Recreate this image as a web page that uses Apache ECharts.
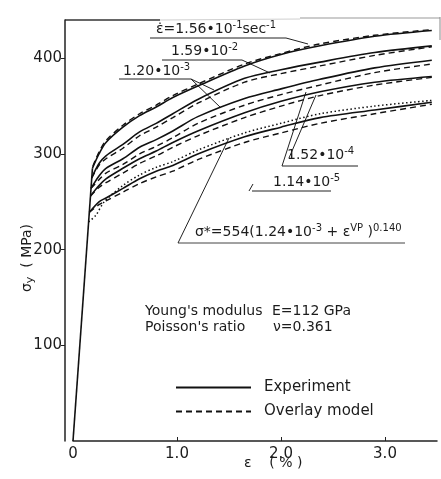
<!DOCTYPE html>
<html>
<head>
<meta charset="utf-8">
<script src="https://cdn.jsdelivr.net/npm/echarts@6/dist/echarts.min.js"></script>
<style>
    html, body { margin: 0; padding: 0; background: #fff; }
    #chart { width: 441px; height: 479px; }
</style>
</head>
<body>
<div id="chart"></div>
<script>
// strain (%) / yield stress (MPa)
const elastic = [[0, 0], [0.187, 285]];

// experiment, one per strain rate (top = fastest)
const exp1 = [[0.187, 285], [0.25, 300], [0.317, 312], [0.48, 328], [0.64, 340], [0.80, 349], [0.96, 359], [1.20, 371], [1.65, 392], [2.0, 404], [2.375, 413], [2.9, 423], [3.45, 429]];
const exp2 = [[0.18, 275], [0.25, 290], [0.317, 298], [0.48, 310], [0.64, 323], [0.80, 332], [0.96, 342], [1.20, 357], [1.65, 379], [2.0, 388], [2.375, 396], [2.9, 406], [3.45, 413]];
const exp3 = [[0.173, 264], [0.25, 277], [0.317, 285], [0.48, 295], [0.64, 307], [0.80, 315], [0.96, 324], [1.20, 339], [1.65, 358], [2.0, 368], [2.375, 378], [2.9, 390], [3.45, 398]];
const exp4 = [[0.168, 256], [0.25, 267], [0.317, 274], [0.48, 285], [0.64, 295], [0.80, 303], [0.96, 312], [1.20, 324], [1.65, 343], [2.0, 355], [2.375, 365], [2.9, 375], [3.45, 381]];
const exp5 = [[0.157, 239], [0.25, 250], [0.317, 254], [0.48, 264], [0.64, 274], [0.80, 282], [0.96, 288], [1.20, 300], [1.65, 318], [2.0, 328], [2.375, 338], [2.9, 346], [3.45, 354]];

// overlay model (dashed)
const mod1 = [[0.19, 287], [0.25, 302], [0.317, 314], [0.48, 330], [0.64, 342], [0.80, 351], [0.96, 361], [1.20, 373], [1.65, 394], [2.0, 405], [2.375, 415], [2.9, 424], [3.45, 430]];
const mod2 = [[0.18, 275], [0.25, 288], [0.317, 295], [0.48, 306], [0.64, 319], [0.80, 328], [0.96, 338], [1.20, 353], [1.65, 375], [2.0, 384], [2.375, 392], [2.9, 403], [3.45, 412]];
const mod3 = [[0.173, 264], [0.25, 273], [0.317, 280], [0.48, 289], [0.64, 300], [0.80, 308], [0.96, 317], [1.20, 332], [1.65, 351], [2.0, 362], [2.375, 372], [2.9, 385], [3.45, 394]];
const mod4 = [[0.168, 256], [0.25, 265], [0.317, 270], [0.48, 280], [0.64, 290], [0.80, 298], [0.96, 307], [1.20, 319], [1.65, 338], [2.0, 350], [2.375, 361], [2.9, 372], [3.45, 380]];
const mod5 = [[0.157, 239], [0.25, 247], [0.317, 251], [0.48, 260], [0.64, 269], [0.80, 276], [0.96, 282], [1.20, 294], [1.65, 312], [2.0, 322], [2.375, 332], [2.9, 342], [3.45, 352]];

// sigma* reference curve (dotted)
const sigmaStar = [[0.15, 229], [0.22, 236], [0.30, 250], [0.48, 267], [0.64, 278], [0.80, 286], [0.96, 292], [1.20, 304], [1.65, 322], [2.0, 332], [2.375, 342], [2.9, 350], [3.45, 356]];

const xTicks = [0, 1, 2, 3];
const yTicks = [100, 200, 300, 400];

const FONT = '"DejaVu Sans", sans-serif';
const INK = '#1c1c1c';

const rich = {
    n: { fontSize: 14, fontFamily: FONT, fill: INK, lineHeight: 18 },
    s: { fontSize: 10, fontFamily: FONT, fill: INK, lineHeight: 10, verticalAlign: 'top' },
    b: { fontSize: 11, fontFamily: FONT, fill: INK, lineHeight: 11, verticalAlign: 'bottom' }
};

function label(x, y, text) {
    return { type: 'text', x: x, y: y, silent: true,
        style: { text: text, rich: rich, verticalAlign: 'middle', align: 'left' } };
}
function plain(x, y, text) {
    return { type: 'text', x: x, y: y, silent: true,
        style: { text: text, font: '14px ' + FONT, fill: INK, verticalAlign: 'middle', align: 'left' } };
}
function seg(x1, y1, x2, y2, color, w) {
    return { type: 'line', silent: true, shape: { x1: x1, y1: y1, x2: x2, y2: y2 },
        style: { stroke: color || '#222', lineWidth: w || 1 } };
}

const chart = echarts.init(document.getElementById('chart'), null, { renderer: 'canvas' });

function line(name, data, type, width) {
    return {
        name: name, type: 'line', data: data, symbol: 'none', smooth: 0.3,
        lineStyle: { color: '#111', width: width, type: type },
        itemStyle: { color: '#111' },
        silent: true, animation: false, z: 3
    };
}

const option = {
    animation: false,
    backgroundColor: '#fff',
    grid: { left: 73, right: 4, top: 20, bottom: 38 },
    xAxis: {
        type: 'value', min: 0, max: 3.5, interval: 1,
        axisLine: { onZero: false, lineStyle: { color: '#222', width: 1.5 } },
        axisTick: { inside: true, length: 4, customValues: [1, 2, 3], lineStyle: { color: '#222' } },
        axisLabel: {
            customValues: xTicks, margin: 6, color: INK, fontSize: 15, fontFamily: FONT,
            formatter: v => v === 0 ? '0' : v.toFixed(1)
        },
        splitLine: { show: false }
    },
    yAxis: {
        type: 'value', min: 0, max: 440, interval: 100, offset: 8,
        axisLine: { show: true, onZero: false, lineStyle: { color: '#222', width: 1.5 } },
        axisTick: { show: true, length: 4, customValues: yTicks, lineStyle: { color: '#222' } },
        axisLabel: { customValues: yTicks, margin: 3, color: INK, fontSize: 15, fontFamily: FONT },
        splitLine: { show: false }
    },
    legend: {
        data: ['Experiment', 'Overlay model'],
        orient: 'vertical', left: 170, top: 375,
        itemWidth: 75, itemHeight: 14, itemGap: 9,
        selectedMode: false,
        itemStyle: { opacity: 0 },
        textStyle: { color: INK, fontSize: 15, fontFamily: FONT, padding: [0, 0, 0, 8] }
    },
    series: [
        line('elastic', elastic, 'solid', 1.6),
        line('Experiment', exp1, 'solid', 1.6),
        line('Experiment', exp2, 'solid', 1.6),
        line('Experiment', exp3, 'solid', 1.6),
        line('Experiment', exp4, 'solid', 1.6),
        line('Experiment', exp5, 'solid', 1.6),
        line('Overlay model', mod1, [6, 4], 1.4),
        line('Overlay model', mod2, [6, 4], 1.4),
        line('Overlay model', mod3, [6, 4], 1.4),
        line('Overlay model', mod4, [6, 4], 1.4),
        line('Overlay model', mod5, [6, 4], 1.4),
        line('sigma*', sigmaStar, [1.5, 2.5], 1.5)
    ],
    graphic: [
        // top frame (faint in the scan)
        seg(65, 20, 160, 20, '#333', 1.3),
        seg(160, 20, 300, 19, '#d0d0d0', 1),
        seg(300, 18, 440, 18, '#999', 1),
        seg(440, 17, 440, 40, '#888', 1),

        // strain-rate labels with underlines and leaders
        label(156, 29, '{n|ε̇=1.56•10}{s|-1}{n|sec}{s|-1}'),
        seg(150, 38, 286, 38), seg(286, 38, 308, 44),
        label(171, 51, '{n|1.59•10}{s|-2}'),
        seg(162, 60, 242, 60), seg(242, 60, 270, 73),
        label(123, 71, '{n|1.20•10}{s|-3}'),
        seg(119, 79, 191, 79), seg(191, 79, 214, 90), seg(191, 79, 221, 108),
        label(287, 155, '{n|1.52•10}{s|-4}'),
        seg(282, 166, 358, 166), seg(282, 166, 306, 92), seg(289, 158, 316, 95),
        label(273, 182, '{n|1.14•10}{s|-5}'),
        seg(252, 191, 331, 191), seg(249, 191, 253, 184),
        label(195, 232, '{n|σ*=554(1.24•10}{s|-3}{n| + ε}{s|VP}{n| )}{s|0.140}'),
        seg(178, 243, 405, 243, '#444', 1), seg(178, 243, 229, 138),

        // material constants
        plain(145, 311, "Young's modulus"), plain(272, 311, 'E=112 GPa'),
        plain(145, 327, "Poisson's ratio"), plain(273, 327, 'ν=0.361'),

        // axis names
        { type: 'text', x: 27, y: 258, rotation: Math.PI / 2, silent: true,
          style: { text: '{n|σ}{b|y}{n|  ( MPa)}', rich: rich, align: 'center', verticalAlign: 'middle' } },
        plain(244, 463, 'ε    ( % )')
    ]
};

chart.setOption(option);
</script>
</body>
</html>
